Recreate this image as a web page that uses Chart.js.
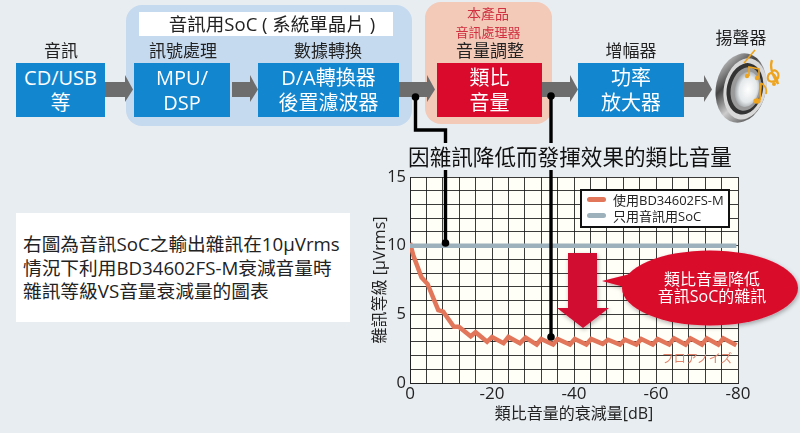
<!DOCTYPE html>
<html>
<head>
<meta charset="utf-8">
<script src="https://cdn.jsdelivr.net/npm/chart.js@4"></script>
<style>
  html, body { margin: 0; padding: 0; }
  body { width: 800px; height: 433px; overflow: hidden; position: relative; background: #e8edf1;
         font-family: "Open Sans", "Noto Sans CJK TC", sans-serif; color: #222; }
  #chart { position: absolute; left: 0; top: 0; }
  .abs { position: absolute; }
  .bg { position: absolute; border-radius: 16px; }
  .box { position: absolute; top: 63px; height: 54px; color: #fff; font-size: 20px; line-height: 25px;
         display: flex; align-items: center; justify-content: center; text-align: center; }
  .blue { background: #1286cf; }
  .red { background: #d90a2c; }
  .lbl { position: absolute; transform: translate(-50%, -50%); white-space: nowrap; font-size: 17px; line-height: 18px; }
  #overlay { position: absolute; left: 0; top: 0; }
  #legend { position: absolute; left: 580px; top: 189px; width: 146px; height: 33px; padding: 1px 0; background: #fff;
            border: 2px solid #111; font-size: 13px; line-height: 16px; }
  #legend div { position: relative; padding-left: 31px; white-space: nowrap; }
  #legend i { position: absolute; left: 5px; top: 5px; width: 19px; height: 5px; border-radius: 3px; }
  #note { position: absolute; left: 16px; top: 213px; width: 334px; height: 109px; background: #fff; }
  #note div { position: absolute; left: 7px; white-space: nowrap; font-size: 18.7px; line-height: 20px; }
</style>
</head>
<body>

<div class="bg" style="left:126px;top:5px;width:286px;height:121px;background:#c5d9ef"></div>
<div class="abs" style="left:139px;top:12px;width:254px;height:24px;background:#fff"></div>
<div class="bg" style="left:425px;top:2px;width:127px;height:122px;background:#f3c9b8"></div>

<canvas id="chart" width="800" height="433"></canvas>

<div class="lbl" style="left:272px;top:24px;font-size:18.5px">音訊用SoC ( 系統單晶片 )</div>
<div class="lbl" style="left:61px;top:51px">音訊</div>
<div class="lbl" style="left:183px;top:51px">訊號處理</div>
<div class="lbl" style="left:328px;top:51px">數據轉換</div>
<div class="lbl" style="left:488px;top:14px;color:#d03040;font-size:14px">本產品</div>
<div class="lbl" style="left:488px;top:32px;color:#d03040;font-size:13px">音訊處理器</div>
<div class="lbl" style="left:490px;top:51px">音量調整</div>
<div class="lbl" style="left:631px;top:51px">增幅器</div>
<div class="lbl" style="left:741px;top:38px">揚聲器</div>

<div class="box blue" style="left:16px;width:89px">CD/USB<br>等</div>
<div class="box blue" style="left:134px;width:96px">MPU/<br>DSP</div>
<div class="box blue" style="left:258px;width:141px">D/A轉換器<br>後置濾波器</div>
<div class="box red" style="left:437px;width:105px">類比<br>音量</div>
<div class="box blue" style="left:578px;width:106px">功率<br>放大器</div>

<div class="lbl" style="left:570px;top:157px;font-size:21.6px;line-height:24px;color:#111">因雜訊降低而發揮效果的類比音量</div>

<div id="note">
  <div style="top:21px">右圖為音訊SoC之輸出雜訊在10μVrms</div>
  <div style="top:45px">情況下利用BD34602FS-M衰減音量時</div>
  <div style="top:68px">雜訊等級VS音量衰減量的圖表</div>
</div>

<svg id="overlay" width="800" height="433" viewBox="0 0 800 433">
  <defs>
    <filter id="sh" x="-20%" y="-20%" width="140%" height="140%">
      <feDropShadow dx="1" dy="2" stdDeviation="2" flood-color="#000" flood-opacity=".3"/>
    </filter>
    <linearGradient id="rim" x1="0" y1="0" x2="1" y2="1">
      <stop offset="0" stop-color="#f4f4f4"/><stop offset=".35" stop-color="#444"/>
      <stop offset=".6" stop-color="#ccc"/><stop offset="1" stop-color="#222"/>
    </linearGradient>
    <radialGradient id="cone" cx=".55" cy=".5" r=".6">
      <stop offset="0" stop-color="#fff"/><stop offset=".6" stop-color="#e4e8ea"/><stop offset="1" stop-color="#8a8f92"/>
    </radialGradient>
  </defs>

  <g fill="#6d6d6d">
    <path d="M105 82H125V75L133 89.5L125 102V97H105Z"/>
    <path d="M232 82H250V75L258 89.5L250 102V97H232Z"/>
    <path d="M399 82H427V75L435 89.5L427 102V97H399Z"/>
    <path d="M542 82H570V75L578 89.5L570 102V97H542Z"/>
    <path d="M684 82H704V75L712 89.5L704 102V97H684Z"/>
  </g>

  <!-- speaker -->
  <g transform="rotate(12 741 88)">
    <ellipse cx="741" cy="88" rx="25" ry="35" fill="url(#rim)"/>
    <ellipse cx="745" cy="88" rx="21" ry="31" fill="#d8d8d8"/>
    <ellipse cx="745" cy="88" rx="18" ry="26" fill="#333"/>
    <ellipse cx="746" cy="88" rx="15" ry="22" fill="#9a9a9a"/>
    <ellipse cx="747" cy="88" rx="12" ry="18" fill="url(#cone)"/>
  </g>
  <g fill="none" stroke="#eea41f" stroke-width="1.6">
    <path d="M744 63L755 50"/>
    <path d="M749 76V67L759 69V78"/>
    <path d="M761 83C766 86 767 90 766 94"/>
    <path d="M761 83L760 100" stroke-width="1.8"/>
    <path d="M772 60C769 68 774 78 778 84C776 74 770 70 768 76C766 82 774 84 778 78C780 72 774 68 772 72"  stroke-width="2.2"/>
  </g>
  <g fill="#eea41f">
    <circle cx="747" cy="76" r="2.2"/><circle cx="757" cy="78" r="2.2"/>
    <ellipse cx="757" cy="101" rx="3.6" ry="2.8"/>
    <circle cx="774" cy="84" r="2"/>
  </g>

  <!-- callout lines -->
  <g fill="none" stroke="#000" stroke-width="3.4">
    <path d="M415.5 97V130H445.5V143"/>
    <path d="M445.5 170V243"/>
    <path d="M551 96V143"/>
    <path d="M551 170V337"/>
  </g>
  <g fill="#000">
    <circle cx="415.5" cy="97" r="3.8"/><circle cx="551" cy="96" r="3.8"/>
    <circle cx="445.5" cy="243" r="3.8"/><circle cx="551" cy="337" r="3.8"/>
  </g>

  <!-- red arrow and bubble -->
  <path d="M568 253H597V308H609L583 328L557 308H568Z" fill="#d10a30" filter="url(#sh)"/>
  <g fill="#d90a2c" filter="url(#sh)">
    <path d="M602 281L630 274L628 288Z"/>
    <ellipse cx="710" cy="288" rx="88" ry="37.5"/>
  </g>
</svg>

<div class="lbl" style="left:712px;top:279px;color:#fff;font-size:16px">類比音量降低</div>
<div class="lbl" style="left:712px;top:296px;color:#fff;font-size:16px">音訊SoC的雜訊</div>
<div class="lbl" style="left:697px;top:358px;color:#e0836a;font-size:12px;font-family:'Noto Sans CJK JP'">フロアノイズ</div>

<div id="legend"></div>

<script>
// values
const noiseDb = [0, -0.8, -2.8, -4.3, -6.9, -8.1, -10.7, -11.9, -14.8, -16, -18.8, -20, -22.8, -24, -26.8, -28.2,
    -30.9, -32, -34.9, -36, -39, -40.2, -43, -44.2, -47, -48.3, -51.2, -52.4, -55.2, -56.4, -59.2, -60.4,
    -63.2, -64.4, -67.2, -68.4, -71.2, -72.4, -75.2, -76.4, -79.6];
const noiseUv = [10.2, 9.3, 7.7, 7.2, 5.3, 5.2, 4.1, 4.1, 3.4, 3.7, 3.0, 3.35, 2.9, 3.35, 2.9, 3.3,
    2.8, 3.2, 2.8, 3.2, 2.8, 3.2, 2.8, 3.2, 2.85, 3.15, 2.8, 3.15, 2.8, 3.2, 2.8, 3.2,
    2.8, 3.25, 2.8, 3.25, 2.8, 3.25, 2.8, 3.25, 2.75];
const socDb = [0, -79.6];
const socUv = [10, 10];

const seriesNames = ["使用BD34602FS-M", "只用音訊用SoC"];
const seriesColors = ["#e2765a", "#9db1bc"];

const xTickLabels = [0, -20, -40, -60, -80];
const yTickLabels = [0, 5, 10, 15];
const xTitle = "類比音量的衰減量[dB]";
const yTitle = "雜訊等級 [μVrms]";

const FONT = '"Open Sans", "Noto Sans CJK TC", sans-serif';
const GRID = "rgba(25,25,25,0.85)";

const toPoints = (xs, ys) => xs.map((x, i) => ({ x, y: ys[i] }));

// cream plot background
const plotBg = {
    id: "plotBg",
    beforeDraw(chart) {
        const a = chart.chartArea;
        chart.ctx.fillStyle = "#fffef7";
        chart.ctx.fillRect(a.left, a.top, a.width, a.height);
    }
};

new Chart(document.getElementById("chart"), {
    type: "line",
    plugins: [plotBg],
    data: {
        datasets: [
            { label: seriesNames[1], data: toPoints(socDb, socUv), borderColor: seriesColors[1], borderWidth: 4.5, pointRadius: 0 },
            { label: seriesNames[0], data: toPoints(noiseDb, noiseUv), borderColor: seriesColors[0], borderWidth: 4.5, pointRadius: 0, borderJoinStyle: "miter" }
        ]
    },
    options: {
        responsive: false,
        animation: false,
        layout: { padding: { left: 371, top: 177, right: 62, bottom: 0 } },
        plugins: { legend: { display: false }, tooltip: { enabled: false } },
        scales: {
            x: {
                type: "linear",
                reverse: true,
                min: -80,
                max: 0,
                afterFit: (s) => { s.height = 50; },
                grid: { color: GRID, lineWidth: 1, drawTicks: false },
                border: { color: "#222" },
                ticks: {
                    stepSize: 4,
                    autoSkip: false,
                    maxRotation: 0,
                    padding: 1,
                    color: "#222",
                    font: { family: FONT, size: 17 },
                    callback: (v) => xTickLabels.includes(v) ? String(v) : ""
                },
                title: { display: true, text: xTitle, color: "#222", font: { family: FONT, size: 16 }, padding: { top: 0, bottom: 9 } }
            },
            y: {
                min: 0,
                max: 15,
                afterFit: (s) => { s.width = 39; },
                grid: { color: GRID, lineWidth: 1, drawTicks: false },
                border: { color: "#222" },
                ticks: {
                    stepSize: 1,
                    autoSkip: false,
                    padding: 4,
                    color: "#222",
                    font: { family: FONT, size: 16.5 },
                    callback: (v) => yTickLabels.includes(v) ? String(v) : ""
                },
                title: { display: true, text: yTitle, color: "#222", font: { family: FONT, size: 16 }, padding: 0 }
            }
        }
    }
});

// legend box sits inside the plot
const legendEl = document.getElementById("legend");
seriesNames.forEach((name, i) => {
    const row = document.createElement("div");
    row.textContent = name;
    const sw = document.createElement("i");
    sw.style.background = seriesColors[i];
    row.appendChild(sw);
    legendEl.appendChild(row);
});
</script>
</body>
</html>
